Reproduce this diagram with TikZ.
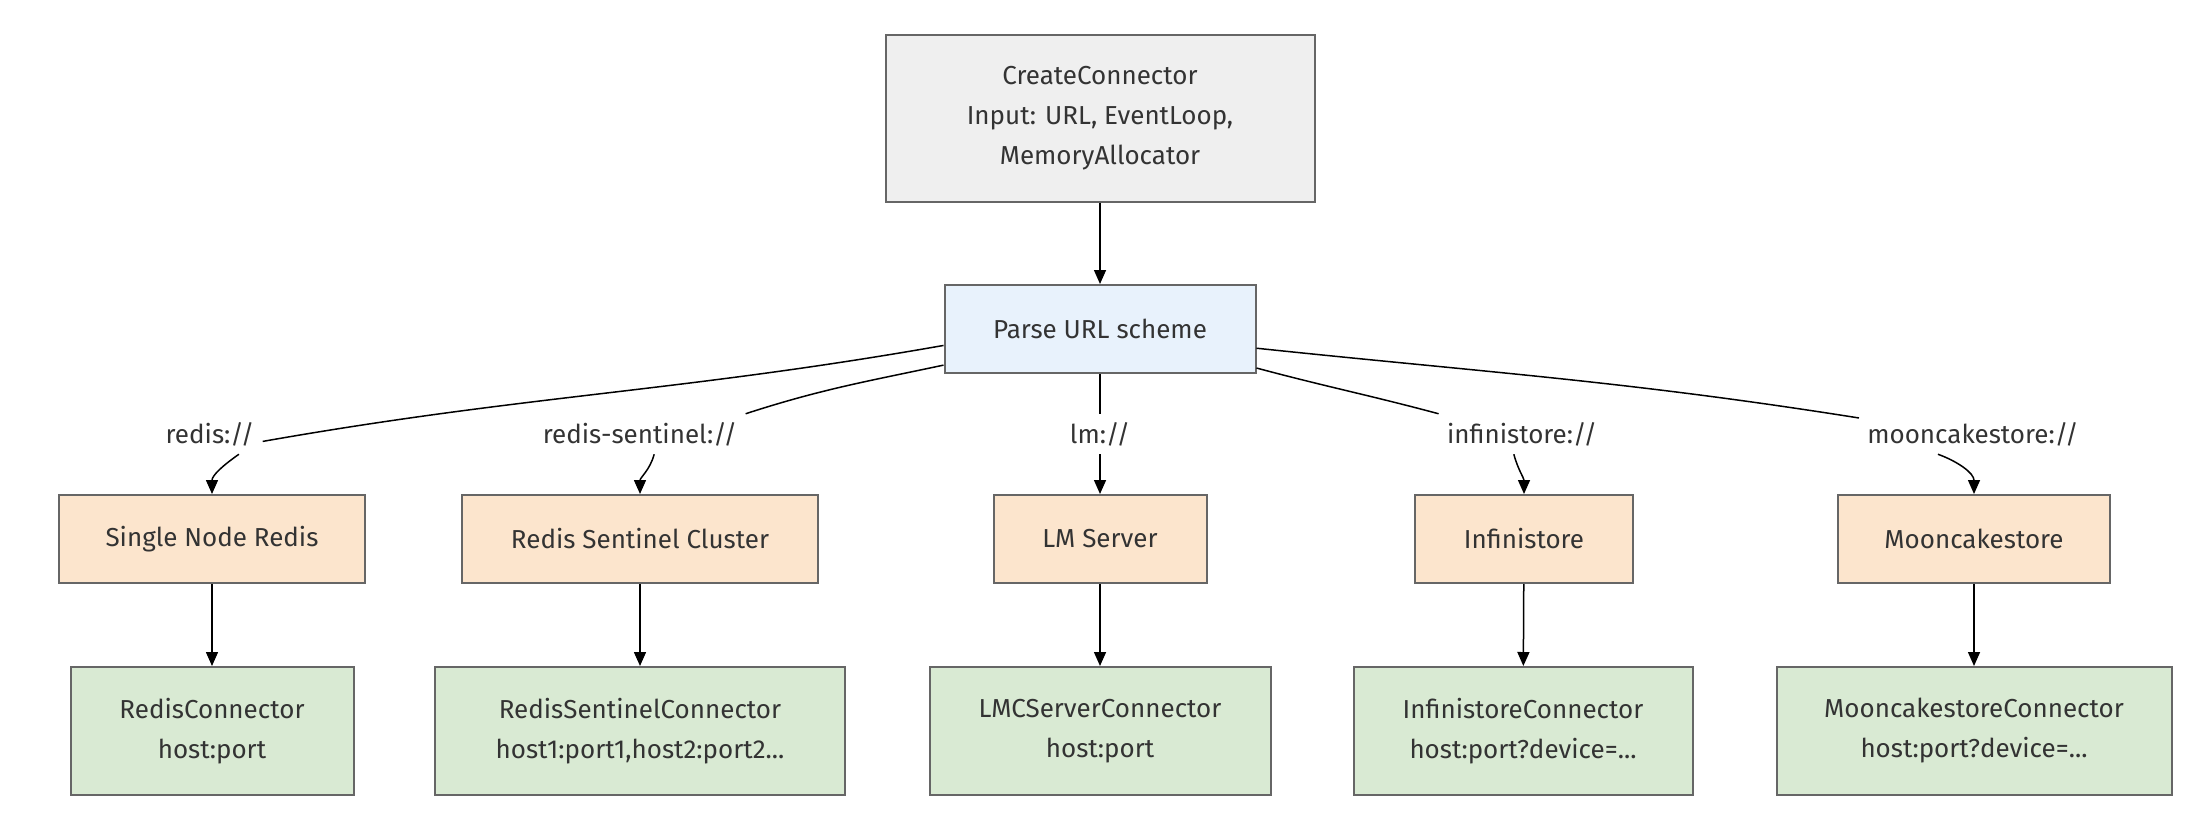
\documentclass[tikz,border=0pt]{standalone}
\usepackage{fontspec}
\setmainfont{Fira Sans}
\usetikzlibrary{arrows.meta}

\definecolor{boxline}{HTML}{666666}
\definecolor{txtgray}{HTML}{333333}
\definecolor{startfill}{HTML}{EFEFEF}
\definecolor{parsefill}{HTML}{E8F2FC}
\definecolor{storefill}{HTML}{FCE5CD}
\definecolor{connfill}{HTML}{D9EAD3}

\tikzset{
	box/.style={draw=boxline, line width=1pt, text=txtgray, align=center, inner sep=0pt,
		font=\fontsize{13}{20}\selectfont},
	startbox/.style={box, fill=startfill, minimum width=214.5pt, minimum height=83.5pt},
	parsebox/.style={box, fill=parsefill, minimum width=155.5pt, minimum height=44pt},
	storebox/.style={box, fill=storefill, minimum height=44pt},
	connbox/.style={box, fill=connfill, minimum height=64pt},
	schemelbl/.style={text=txtgray, inner sep=4pt, font=\fontsize{13}{16}\selectfont},
	flow/.style={draw=black, line width=0.75pt},
	>={Triangle[length=7pt,width=6pt]}
}

\begin{document}
\begin{tikzpicture}[x=0.5pt, y=-0.5pt]

	\useasboundingbox (0,0) rectangle (2194,814);

	\node[startbox] (create) at (1100,118) {CreateConnector\\Input: URL, EventLoop,\\MemoryAllocator};

	\node[parsebox] (parse) at (1100,329) {Parse URL scheme};

	\draw[flow, ->] (create) -- (parse);

	% stores
	\node[storebox, minimum width=153pt] (single) at (212,539) {Single Node Redis};
	\node[storebox, minimum width=178pt] (sentinel) at (640,539) {Redis Sentinel Cluster};
	\node[storebox, minimum width=106.5pt] (lmserver) at (1100,539) {LM Server};
	\node[storebox, minimum width=109pt] (infini) at (1524,539) {Infinistore};
	\node[storebox, minimum width=136pt] (mooncake) at (1974,539) {Mooncakestore};

	% connectors
	\node[connbox, minimum width=141.5pt] (redisconn) at (212,731) {RedisConnector\\host:port};
	\node[connbox, minimum width=205pt] (sentinelconn) at (640,731) {RedisSentinelConnector\\host1:port1,host2:port2...};
	\node[connbox, minimum width=170.5pt] (lmcconn) at (1100,731) {LMCServerConnector\\host:port};
	\node[connbox, minimum width=169.5pt] (infiniconn) at (1523,731) {InfinistoreConnector\\host:port?device=...};
	\node[connbox, minimum width=197.5pt] (mooncakeconn) at (1974,731) {MooncakestoreConnector\\host:port?device=...};

	% scheme labels
	\node[schemelbl] (redislbl) at (210,434) {redis://};
	\node[schemelbl] (sentinellbl) at (640,434) {redis-sentinel://};
	\node[schemelbl] (lmlbl) at (1100,434) {lm://};
	\node[schemelbl] (infinilbl) at (1522,434) {infinistore://};
	\node[schemelbl] (mooncakelbl) at (1973,434) {mooncakestore://};

	\draw[flow] (parse.186) to[out=190, in=10] (redislbl.-8);
	\draw[flow, ->] (redislbl.-35) to[out=-145, in=90] (single.north);

	\draw[flow] (parse.193) to[out=192, in=18] (sentinellbl.north east);
	\draw[flow, ->] (sentinellbl.-55) to[out=-105, in=90] (sentinel.north);

	\draw[flow] (parse) -- (lmlbl);
	\draw[flow, ->] (lmlbl) -- (lmserver);

	\draw[flow] (parse.-14) to[out=-15, in=165] (infinilbl.north west);
	\draw[flow, ->] (infinilbl.-112) to[out=-75, in=90] (infini.north);

	\draw[flow] (parse.-7) to[out=-6, in=171] (mooncakelbl.172);
	\draw[flow, ->] (mooncakelbl.-150) to[out=-20, in=90] (mooncake.north);

	\draw[flow, ->] (single) -- (redisconn);
	\draw[flow, ->] (sentinel) -- (sentinelconn);
	\draw[flow, ->] (lmserver) -- (lmcconn);
	\draw[flow, ->] (infini) -- (infiniconn);
	\draw[flow, ->] (mooncake) -- (mooncakeconn);

\end{tikzpicture}
\end{document}
